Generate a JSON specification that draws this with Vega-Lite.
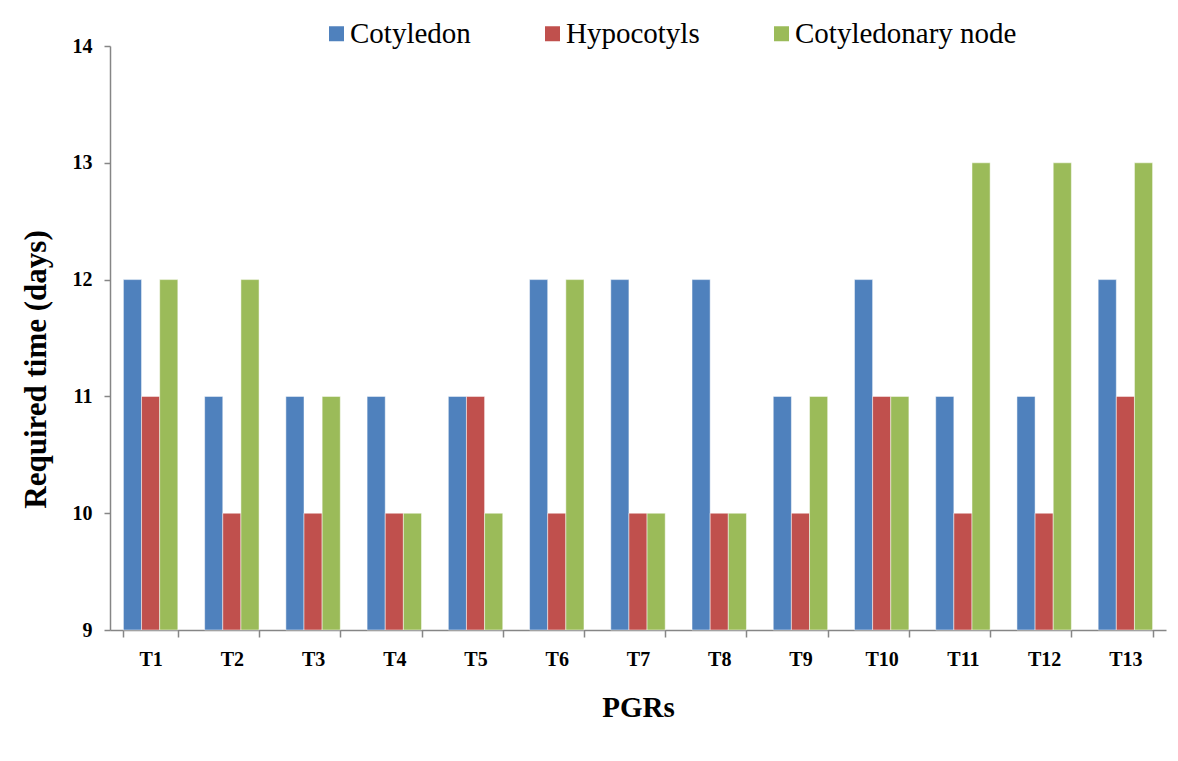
{
  "$schema": "https://vega.github.io/schema/vega-lite/v6.json",
  "width": 1056,
  "height": 584,
  "autosize": {"type": "none"},
  "padding": {"left": 110, "top": 46, "right": 12, "bottom": 131},
  "background": "white",
  "config": {
    "font": "Liberation Serif",
    "view": {"stroke": null},
    "axis": {"grid": false, "domainColor": "#868686", "tickColor": "#868686", "domainWidth": 1.5, "tickWidth": 1.5}
  },
  "data": {
    "values": [
      {"pgr": "T1", "part": "Cotyledon", "days": 12},
      {"pgr": "T1", "part": "Hypocotyls", "days": 11},
      {"pgr": "T1", "part": "Cotyledonary node", "days": 12},
      {"pgr": "T2", "part": "Cotyledon", "days": 11},
      {"pgr": "T2", "part": "Hypocotyls", "days": 10},
      {"pgr": "T2", "part": "Cotyledonary node", "days": 12},
      {"pgr": "T3", "part": "Cotyledon", "days": 11},
      {"pgr": "T3", "part": "Hypocotyls", "days": 10},
      {"pgr": "T3", "part": "Cotyledonary node", "days": 11},
      {"pgr": "T4", "part": "Cotyledon", "days": 11},
      {"pgr": "T4", "part": "Hypocotyls", "days": 10},
      {"pgr": "T4", "part": "Cotyledonary node", "days": 10},
      {"pgr": "T5", "part": "Cotyledon", "days": 11},
      {"pgr": "T5", "part": "Hypocotyls", "days": 11},
      {"pgr": "T5", "part": "Cotyledonary node", "days": 10},
      {"pgr": "T6", "part": "Cotyledon", "days": 12},
      {"pgr": "T6", "part": "Hypocotyls", "days": 10},
      {"pgr": "T6", "part": "Cotyledonary node", "days": 12},
      {"pgr": "T7", "part": "Cotyledon", "days": 12},
      {"pgr": "T7", "part": "Hypocotyls", "days": 10},
      {"pgr": "T7", "part": "Cotyledonary node", "days": 10},
      {"pgr": "T8", "part": "Cotyledon", "days": 12},
      {"pgr": "T8", "part": "Hypocotyls", "days": 10},
      {"pgr": "T8", "part": "Cotyledonary node", "days": 10},
      {"pgr": "T9", "part": "Cotyledon", "days": 11},
      {"pgr": "T9", "part": "Hypocotyls", "days": 10},
      {"pgr": "T9", "part": "Cotyledonary node", "days": 11},
      {"pgr": "T10", "part": "Cotyledon", "days": 12},
      {"pgr": "T10", "part": "Hypocotyls", "days": 11},
      {"pgr": "T10", "part": "Cotyledonary node", "days": 11},
      {"pgr": "T11", "part": "Cotyledon", "days": 11},
      {"pgr": "T11", "part": "Hypocotyls", "days": 10},
      {"pgr": "T11", "part": "Cotyledonary node", "days": 13},
      {"pgr": "T12", "part": "Cotyledon", "days": 11},
      {"pgr": "T12", "part": "Hypocotyls", "days": 10},
      {"pgr": "T12", "part": "Cotyledonary node", "days": 13},
      {"pgr": "T13", "part": "Cotyledon", "days": 12},
      {"pgr": "T13", "part": "Hypocotyls", "days": 11},
      {"pgr": "T13", "part": "Cotyledonary node", "days": 13}
    ]
  },
  "mark": {"type": "bar", "stroke": "#ffffff", "strokeWidth": 0.7, "strokeOpacity": 0.7},
  "encoding": {
    "x": {
      "field": "pgr", "type": "nominal", "sort": null,
      "scale": {"paddingInner": 0.33, "paddingOuter": 0.165},
      "axis": {
        "title": "PGRs", "titleFontSize": 29, "titleFontWeight": "bold", "titleColor": "#000000", "titlePadding": 24,
        "labelAngle": 0, "labelFontSize": 20, "labelFontWeight": "bold", "labelColor": "#000000", "labelPadding": 12,
        "tickBand": "extent", "tickSize": 7
      }
    },
    "xOffset": {"field": "part", "type": "nominal", "sort": ["Cotyledon", "Hypocotyls", "Cotyledonary node"]},
    "y": {
      "field": "days", "type": "quantitative",
      "scale": {"domain": [9, 14], "zero": false, "nice": false},
      "axis": {
        "title": "Required time (days)", "titleFontSize": 31, "titleFontWeight": "bold", "titleColor": "#000000", "titlePadding": 20, "titleY": 323,
        "values": [9, 10, 11, 12, 13, 14], "labelFontSize": 20, "labelFontWeight": "bold", "labelColor": "#000000", "labelPadding": 12, "tickSize": 6
      }
    },
    "y2": {"datum": 9},
    "color": {
      "field": "part", "type": "nominal",
      "sort": ["Cotyledon", "Hypocotyls", "Cotyledonary node"],
      "scale": {"domain": ["Cotyledon", "Hypocotyls", "Cotyledonary node"], "range": ["#4F81BD", "#C0504D", "#9BBB59"]},
      "legend": {
        "title": null, "orient": "none", "direction": "horizontal", "legendX": 212, "legendY": -27,
        "symbolType": "square", "symbolSize": 225, "symbolStrokeWidth": 0, "symbolOpacity": 1,
        "labelFontSize": 29, "labelColor": "#000000", "labelOffset": -1, "labelLimit": 500, "columnPadding": 67
      }
    }
  }
}
